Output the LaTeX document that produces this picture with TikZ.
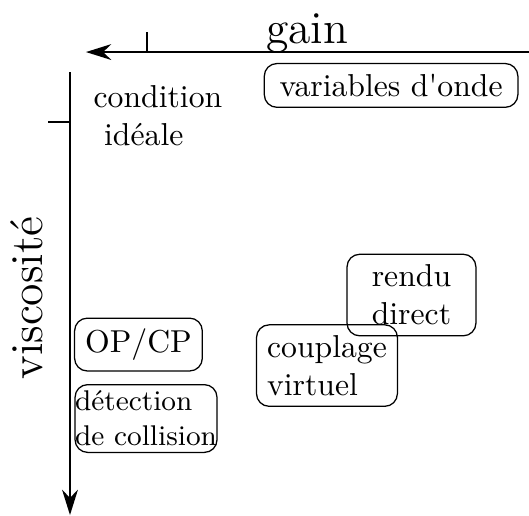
\documentclass[tikz,border=0pt]{standalone}
\usepackage{fontspec}
\usetikzlibrary{arrows.meta}
\tikzstyle{boite}=[
draw,
rounded corners
]
\tikzstyle{axe}=[
semithick,
-{Stealth[length=8pt,width=5pt]}
]

\begin{document}
\begin{tikzpicture}

\useasboundingbox (-0.776,0.577) rectangle (5.089,-5.133);

% axes
\coordinate (gdebut) at (5.089,0);
\coordinate (gfin) at (0.177,0);
\coordinate (vdebut) at (0,-0.222);
\coordinate (vfin) at (0,-5.133);
\draw [axe] (gdebut) -- (gfin);
\draw [axe] (vdebut) -- (vfin);

% repere de la condition ideale
\coordinate (gtrait) at (0.854,0);
\coordinate (vtrait) at (0,-0.776);
\draw [semithick] (gtrait) -- ++(0,0.222);
\draw [semithick] (vtrait) -- ++(-0.244,0);

\node (gain) [anchor=base] at (2.63,0.10) {\Large gain};
\node (visco) [anchor=base, rotate=90] at (-0.31,-2.727) {\Large viscosité};
\node (ideal) [anchor=north west, inner sep=0pt, align=left] at (0.255,-0.366) {condition\\~idéale};

\node (onde) [boite, minimum width=80pt] at (3.56,-0.37) {variables d\textquotesingle onde};
\node (rendu) [boite, text width=34pt, align=center] at (3.786,-2.694) {rendu\\direct};
\node (couplage) [boite, align=left] at (2.849,-3.476) {couplage\\virtuel};
\node (opcp) [boite] at (0.759,-3.243) {OP/CP};
\node (detection) [boite, inner xsep=0pt, inner ysep=2pt, align=left, font=\small] at (0.843,-4.063) {détection\\de collision};

\end{tikzpicture}
\end{document}
